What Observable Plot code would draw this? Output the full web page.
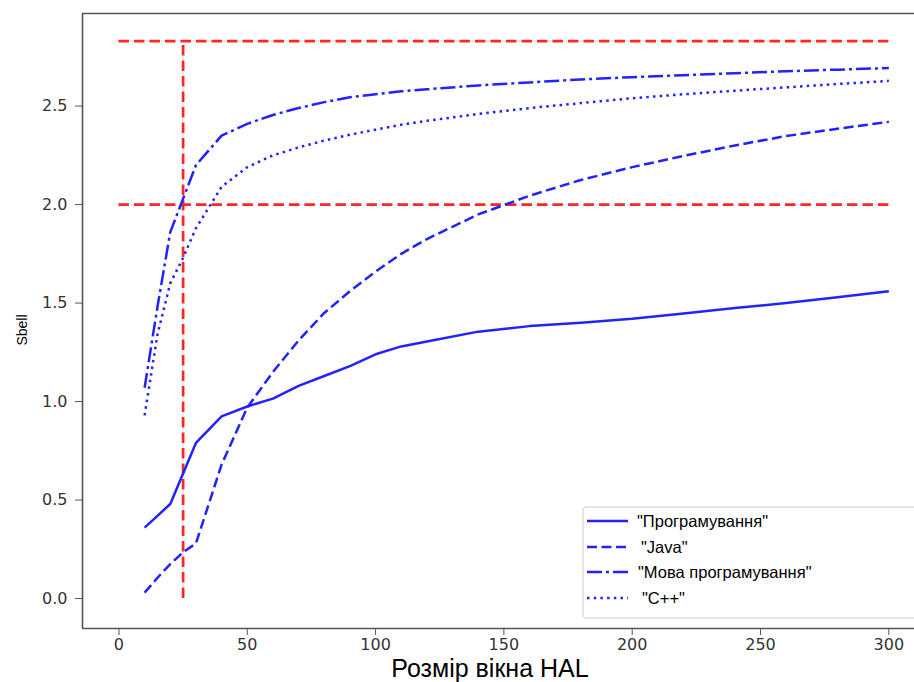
<!DOCTYPE html>
<html><head><meta charset="utf-8">
<script src="https://cdn.jsdelivr.net/npm/d3@7"></script>
<script src="https://cdn.jsdelivr.net/npm/@observablehq/plot@0.6"></script>
<style>
body{margin:0;background:#fff}
#chart{position:relative;width:914px;height:682px;overflow:hidden}
</style>
</head><body><div id="chart"></div>
<script>
// ---- data ----
const windowSizes = [10,15,20,25,30,40,50,60,70,80,90,100,110,120,140,160,180,200,220,240,260,280,300];
const programuvannya = [0.36,0.42,0.48,0.635,0.79,0.925,0.975,1.015,1.08,1.13,1.18,1.24,1.28,1.305,1.355,1.383,1.40,1.42,1.447,1.475,1.50,1.53,1.56];
const java = [0.03,0.105,0.175,0.235,0.28,0.68,0.97,1.15,1.31,1.45,1.56,1.66,1.75,1.825,1.95,2.045,2.125,2.19,2.247,2.30,2.348,2.385,2.42];
const movaProgramuvannya = [1.07,1.48,1.86,2.03,2.20,2.35,2.41,2.455,2.49,2.52,2.545,2.56,2.575,2.585,2.605,2.62,2.635,2.647,2.657,2.667,2.677,2.685,2.693];
const cpp = [0.93,1.34,1.60,1.73,1.88,2.09,2.19,2.25,2.29,2.325,2.355,2.38,2.405,2.425,2.46,2.49,2.515,2.54,2.56,2.578,2.595,2.612,2.628];
const seriesNames = ['"Програмування"', '"Java"', '"Мова програмування"', '"C++"'];
const seriesDash = [null, "10,4.5", "15,4,3,4", "2.5,4.2"];
const xTicks = [0,50,100,150,200,250,300];
const yTicks = [0,0.5,1.0,1.5,2.0,2.5];
const thresholdLevels = [2.0, 2.83];
const thresholdSpanX = [0, 300];
const thresholdWindow = [25];
const xLabel = "Розмір вікна HAL";
const yLabel = "Sbell";
const xDomain = [-14.2, 310];
const yDomain = [-0.152, 2.97];

const blue = "#2222ff";
const red = "#ff2626";
const seriesValues = [programuvannya, java, movaProgramuvannya, cpp];
const tables = seriesValues.map((vals, k) => windowSizes.map((x, i) => ({x, y: vals[i], name: seriesNames[k]})));

const lineMarks = tables.map((t, k) => Plot.line(t, {
  x: "x", y: "y", stroke: blue, strokeWidth: 2.5,
  strokeDasharray: seriesDash[k] || undefined, strokeLinecap: "butt", strokeLinejoin: "round"
}));

const plot = Plot.plot({
  width: 914, height: 682,
  marginLeft: 82, marginRight: 0, marginTop: 13, marginBottom: 54,
  style: {fontFamily: "DejaVu Sans", fontSize: "16px", color: "#333", background: "white", overflow: "visible"},
  x: {domain: xDomain, label: null},
  y: {domain: yDomain, label: null},
  marks: [
    Plot.ruleY(thresholdLevels, {y: d => d, x1: thresholdSpanX[0], x2: thresholdSpanX[1], stroke: red, strokeWidth: 2.7, strokeDasharray: "10.5,5"}),
    Plot.ruleX(thresholdWindow, {x: d => d, y1: 0, y2: thresholdLevels[1], stroke: red, strokeWidth: 2.7, strokeDasharray: "10.5,5"}),
    ...lineMarks,
    Plot.ruleX([xDomain[0]], {stroke: "#555", strokeWidth: 1.6}),
    Plot.ruleY(yDomain, {stroke: "#555", strokeWidth: 1.6}),
    Plot.axisX(xTicks, {anchor: "bottom", tickSize: 7, tickPadding: 3, fontSize: 16, stroke: "#555", fill: "#333", label: null}),
    Plot.axisY(yTicks, {anchor: "left", tickSize: 7, tickPadding: 8, fontSize: 16, tickFormat: d3.format(".1f"), stroke: "#555", fill: "#333", label: null})
  ]
});

const svg = d3.select(plot);
// axis titles
svg.append("text").attr("x", 490).attr("y", 677).attr("text-anchor", "middle")
  .attr("font-family", "Liberation Sans, Arial, sans-serif").attr("font-size", 25).attr("fill", "#000").text(xLabel);
svg.append("text").attr("transform", "translate(22,330) rotate(-90)").attr("text-anchor", "middle")
  .attr("dominant-baseline", "central")
  .attr("font-family", "Liberation Sans, Arial, sans-serif").attr("font-size", 14).attr("fill", "#000").text(yLabel);

// legend
const lg = svg.append("g");
lg.append("rect").attr("x", 583).attr("y", 507).attr("width", 345).attr("height", 111).attr("rx", 3)
  .attr("fill", "white").attr("fill-opacity", 0.85).attr("stroke", "#cccccc").attr("stroke-width", 1);
const rowY = [521, 547, 572, 598];
const textDx = [0, 4, 1, 5];
seriesNames.forEach((name, k) => {
  const ln = lg.append("line").attr("x1", 587).attr("x2", 628).attr("y1", rowY[k]).attr("y2", rowY[k])
    .attr("stroke", blue).attr("stroke-width", 2.5).attr("stroke-linecap", "butt");
  if (seriesDash[k]) ln.attr("stroke-dasharray", seriesDash[k]);
  lg.append("text").attr("x", 637 + textDx[k]).attr("y", rowY[k]).attr("dominant-baseline", "central")
    .attr("text-anchor", "start")
    .attr("font-family", "Liberation Sans, Arial, sans-serif").attr("font-size", 16.5).attr("fill", "#000").text(name);
});

document.getElementById("chart").appendChild(plot);
</script>
</body></html>
